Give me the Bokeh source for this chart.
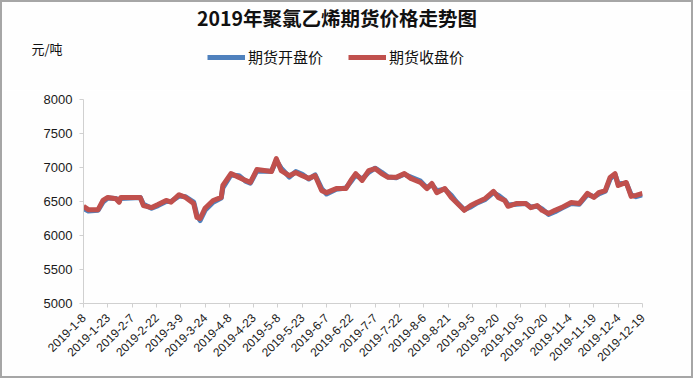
import math
import pandas as pd
from bokeh.plotting import figure
from bokeh.layouts import column
from bokeh.models import Range1d, FixedTicker, Label, Legend, LegendItem, ColumnDataSource
from bokeh.embed import file_html
from bokeh.resources import INLINE

title_text = "2019年聚氯乙烯期货价格走势图"
y_unit = "元/吨"
series_names = ["期货开盘价", "期货收盘价"]

dates = ["2019-01-08", "2019-01-11", "2019-01-17", "2019-01-20", "2019-01-23", "2019-01-28",
         "2019-01-30", "2019-01-31", "2019-02-12", "2019-02-14", "2019-02-19", "2019-02-23",
         "2019-02-28", "2019-03-03", "2019-03-08", "2019-03-12", "2019-03-17", "2019-03-19",
         "2019-03-21", "2019-03-24", "2019-03-29", "2019-04-03", "2019-04-04", "2019-04-09",
         "2019-04-14", "2019-04-18", "2019-04-21", "2019-04-25", "2019-05-04", "2019-05-07",
         "2019-05-10", "2019-05-15", "2019-05-19", "2019-05-23", "2019-05-27", "2019-05-31",
         "2019-06-04", "2019-06-07", "2019-06-13", "2019-06-19", "2019-06-22", "2019-06-25",
         "2019-06-29", "2019-07-03", "2019-07-07", "2019-07-11", "2019-07-15", "2019-07-20",
         "2019-07-25", "2019-07-29", "2019-08-04", "2019-08-08", "2019-08-11", "2019-08-14",
         "2019-08-19", "2019-08-23", "2019-08-26", "2019-08-31", "2019-09-04", "2019-09-08",
         "2019-09-13", "2019-09-18", "2019-09-21", "2019-09-25", "2019-09-27", "2019-10-02",
         "2019-10-08", "2019-10-11", "2019-10-15", "2019-10-18", "2019-10-22", "2019-10-26",
         "2019-10-30", "2019-11-05", "2019-11-10", "2019-11-15", "2019-11-19", "2019-11-22",
         "2019-11-26", "2019-11-29", "2019-12-02", "2019-12-04", "2019-12-09", "2019-12-12",
         "2019-12-15", "2019-12-19"]

open_price = [6400, 6360, 6370, 6490, 6550, 6545, 6500, 6545, 6560, 6460,
              6400, 6440, 6500, 6500, 6580, 6570, 6490, 6300, 6220, 6370,
              6490, 6550, 6700, 6890, 6880, 6800, 6770, 6950, 6945, 7100,
              6990, 6860, 6940, 6900, 6830, 6890, 6690, 6610, 6680, 6700,
              6790, 6890, 6830, 6930, 6990, 6930, 6860, 6850, 6900, 6860,
              6800, 6700, 6750, 6660, 6680, 6590, 6500, 6380, 6420, 6480,
              6530, 6630, 6590, 6520, 6450, 6460, 6470, 6420, 6430, 6390,
              6310, 6350, 6400, 6470, 6460, 6600, 6570, 6610, 6650, 6830,
              6900, 6760, 6770, 6600, 6570, 6600]

close_price = [6430, 6380, 6380, 6515, 6560, 6540, 6490, 6560, 6560, 6440,
               6410, 6455, 6515, 6490, 6600, 6560, 6470, 6265, 6250, 6400,
               6515, 6560, 6735, 6910, 6855, 6810, 6780, 6970, 6940, 7130,
               6955, 6880, 6925, 6880, 6840, 6880, 6660, 6630, 6690, 6690,
               6810, 6910, 6810, 6955, 6985, 6910, 6855, 6855, 6910, 6840,
               6780, 6690, 6765, 6630, 6690, 6560, 6490, 6370, 6440, 6490,
               6545, 6650, 6560, 6515, 6430, 6470, 6470, 6410, 6440, 6370,
               6325, 6370, 6410, 6485, 6470, 6620, 6560, 6630, 6660, 6855,
               6910, 6735, 6780, 6575, 6590, 6620]

tick_dates = ["2019-01-08", "2019-01-23", "2019-02-07", "2019-02-22", "2019-03-09", "2019-03-24",
              "2019-04-08", "2019-04-23", "2019-05-08", "2019-05-23", "2019-06-07", "2019-06-22",
              "2019-07-07", "2019-07-22", "2019-08-06", "2019-08-21", "2019-09-05", "2019-09-20",
              "2019-10-05", "2019-10-20", "2019-11-04", "2019-11-19", "2019-12-04", "2019-12-19"]
tick_labels = ["2019-1-8", "2019-1-23", "2019-2-7", "2019-2-22", "2019-3-9", "2019-3-24",
               "2019-4-8", "2019-4-23", "2019-5-8", "2019-5-23", "2019-6-7", "2019-6-22",
               "2019-7-7", "2019-7-22", "2019-8-6", "2019-8-21", "2019-9-5", "2019-9-20",
               "2019-10-5", "2019-10-20", "2019-11-4", "2019-11-19", "2019-12-4", "2019-12-19"]
y_ticks = [5000, 5500, 6000, 6500, 7000, 7500, 8000]

BLUE, RED = "#4F81BD", "#C0504D"
W = 689
HH, MH = 88, 286
CJK = "Noto Sans CJK SC"
BG = "#FEFEFE"
LW = 5

# ---------- header: title, unit, legend ----------
head = figure(width=W, height=HH, output_backend="svg", toolbar_location=None,
              x_axis_location=None, y_axis_location=None,
              x_range=Range1d(0, 1), y_range=Range1d(0, 1),
              min_border_left=0, min_border_right=0, min_border_top=0, min_border_bottom=0)
head.frame_align = False
head.outline_line_color = None
head.background_fill_color = BG
head.border_fill_color = BG
head.xgrid.visible = False
head.ygrid.visible = False
# legend-only renderers (one undefined point each, nothing is drawn in the frame)
key_src = ColumnDataSource(dict(x=[float("nan")], y=[float("nan")]))
h1 = head.line("x", "y", source=key_src, line_color=BLUE, line_width=LW)
h2 = head.line("x", "y", source=key_src, line_color=RED, line_width=LW)
legend = Legend(items=[LegendItem(label=series_names[0], renderers=[h1]),
                       LegendItem(label=series_names[1], renderers=[h2])],
                orientation="horizontal", location=(205, 23), glyph_width=38, glyph_height=20,
                label_standoff=3, spacing=25, padding=0, margin=0, border_line_color=None,
                background_fill_alpha=0, label_text_font=CJK,
                label_text_font_size="15px", label_height=20, label_text_color="#111111")
head.add_layout(legend)
head.add_layout(Label(x=334.5, y=73, x_units="screen", y_units="screen", text=title_text,
                      text_align="center", text_baseline="middle", text_font=CJK,
                      text_font_size="19.5px", text_font_style="bold", text_color="#111111"))
head.add_layout(Label(x=29, y=42, x_units="screen", y_units="screen", text=y_unit,
                      text_align="left", text_baseline="middle", text_font=CJK,
                      text_font_size="13px", text_color="#111111"))

# ---------- main chart ----------
src = ColumnDataSource(dict(date=pd.to_datetime(dates), open=open_price, close=close_price))
tick_ms = [int(pd.Timestamp(d).value // 10**6) for d in tick_dates]

p = figure(width=W, height=MH, x_axis_type="datetime", output_backend="svg", toolbar_location=None,
           x_range=Range1d(pd.Timestamp(tick_dates[0]), pd.Timestamp(tick_dates[-1])),
           y_range=Range1d(y_ticks[0], y_ticks[-1]),
           min_border_left=81, min_border_right=49, min_border_top=9, min_border_bottom=73)
p.frame_align = False
p.outline_line_color = None
p.background_fill_color = BG
p.border_fill_color = BG
p.xgrid.visible = False
p.ygrid.visible = False

p.xaxis.ticker = FixedTicker(ticks=tick_ms)
p.xaxis.major_label_overrides = {ms: lab for ms, lab in zip(tick_ms, tick_labels)}
p.xaxis.major_label_orientation = math.pi / 4
p.yaxis.ticker = FixedTicker(ticks=y_ticks)
for ax in (p.xaxis, p.yaxis):
    ax.axis_line_color = "#D0D0D0"
    ax.major_tick_line_color = "#D0D0D0"
    ax.major_tick_out = 4
    ax.major_tick_in = 0
    ax.minor_tick_line_color = None
    ax.major_label_text_font = "Liberation Sans"
    ax.major_label_text_color = "#1a1a1a"
p.yaxis.major_label_text_font_size = "13px"
p.yaxis.major_label_standoff = 7
p.xaxis.major_label_text_font_size = "12px"
p.xaxis.major_label_standoff = 8

p.line("date", "open", source=src, line_color=BLUE, line_width=LW, line_join="round")
p.line("date", "close", source=src, line_color=RED, line_width=LW, line_join="round")

layout = column(head, p, spacing=0, styles={"border": "2px solid #A6A6A6"})

open("out.html", "w").write(file_html(layout, INLINE))
